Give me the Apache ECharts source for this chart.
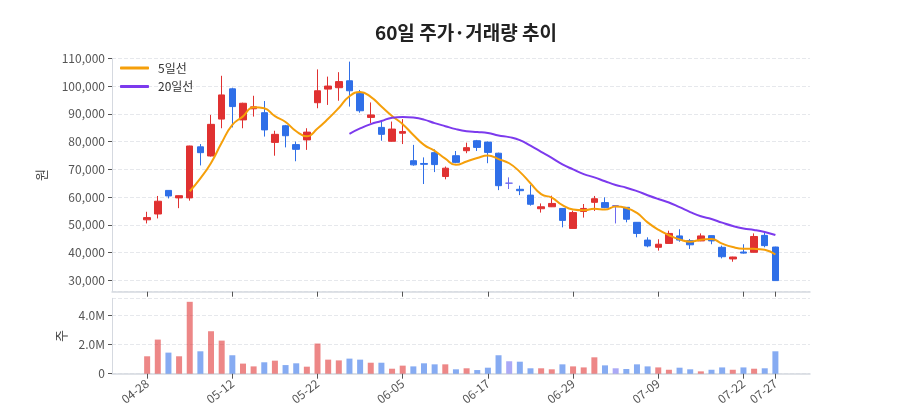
<!DOCTYPE html>
<html>
<head>
<meta charset="utf-8">
<script src="https://cdn.jsdelivr.net/npm/echarts@6/dist/echarts.min.js"></script>
<style>
  html, body { margin: 0; padding: 0; background: #fff; }
  #chart { width: 900px; height: 420px; }
</style>
</head>
<body>
<div id="chart"></div>
<script>
const chart = echarts.init(document.getElementById('chart'))

const dates = ['04-28','04-29','04-30','05-04','05-06','05-07','05-08','05-11','05-12','05-13',
    '05-14','05-15','05-18','05-19','05-20','05-21','05-22','05-26','05-27','05-28',
    '05-29','06-01','06-02','06-04','06-05','06-08','06-09','06-10','06-11','06-12',
    '06-15','06-16','06-17','06-18','06-19','06-22','06-23','06-24','06-25','06-26',
    '06-29','06-30','07-01','07-02','07-03','07-06','07-07','07-08','07-09','07-10',
    '07-13','07-14','07-15','07-16','07-20','07-21','07-22','07-23','07-24','07-27']

const opens = [51800,53900,62400,59700,59700,78100,74800,88100,99000,87800,
    91800,90400,79700,85700,78900,80600,94000,98900,99400,101900,
    97400,88700,85100,80100,83000,73100,72100,76000,67400,74900,
    76700,80300,79800,75800,65000,62800,60700,55800,56500,55900,
    48700,54800,58100,58000,56900,56300,50900,44500,41900,43300,
    46000,44300,44200,46100,41900,37700,40200,40100,46200,42000]
const closes = [52600,58500,60400,60500,78400,76000,86200,96800,92600,93800,
    92500,84200,82600,82100,77200,83400,98300,100000,101600,98300,
    91100,89600,82600,84500,83600,71600,71800,71700,70400,72500,
    77800,77900,76100,64100,65000,62300,57400,56500,57700,51600,
    54400,55900,59400,56200,56900,52000,46900,42400,43000,46900,
    44500,42800,46000,44200,38500,38400,39800,45800,42500,29900]
const lows = [50500,52300,59500,56000,58700,71400,74600,84800,85100,84800,
    89000,81800,74900,77900,72900,77000,92000,93200,94700,92600,
    90400,86600,80300,80000,79100,71300,64700,69000,66400,72200,
    75800,76600,72200,62500,62900,60700,56900,54400,56400,49100,
    48600,52600,55000,56000,50500,50900,45500,41900,40700,43200,
    43900,41300,44100,43000,37900,36700,39600,40000,41900,29900]
const highs = [54700,60400,62500,60600,78500,79100,89600,103700,99400,94000,
    96500,94600,83900,86000,80000,84800,106000,103400,105000,108800,
    98600,94100,87200,87200,88100,78800,74300,77200,71000,76600,
    79600,80600,80000,76000,67100,64100,64300,57700,60500,56000,
    55100,57500,60400,59900,57100,56400,51000,45500,44800,47900,
    48400,44900,46900,46200,42500,38500,43000,46900,47200,42100]
const volumes = [1190000,2330000,1440000,1190000,4910000,1530000,2900000,2260000,1260000,690000,
    500000,780000,890000,590000,710000,480000,2060000,960000,910000,1030000,
    960000,750000,750000,340000,550000,500000,710000,640000,640000,300000,
    370000,250000,410000,1260000,850000,820000,370000,370000,300000,640000,
    500000,430000,1120000,570000,370000,320000,640000,500000,430000,270000,
    410000,300000,160000,270000,430000,270000,430000,340000,370000,1530000]

const tickIdx = [0, 8, 16, 24, 32, 40, 48, 56, 59]

const UP = '#e03131'
const DOWN = '#2f6fe8'
const DOJI = '#6e6af0'
const FONT = '"Noto Sans CJK KR", "Noto Sans", sans-serif'

// moving average of closes
function ma(n) {
    var res = []
    for (var i = n - 1; i < closes.length; i++) {
        var s = 0
        for (var j = i - n + 1; j <= i; j++) s += closes[j]
        res.push([i, s / n])
    }
    return res
}

const candles = dates.map(function (d, i) {
    var item = { value: [i, opens[i], closes[i], lows[i], highs[i]] }
    if (opens[i] === closes[i]) {
        item.itemStyle = { color: DOJI, color0: DOJI, borderColor: DOJI, borderColor0: DOJI }
    }
    return item
})

const vols = volumes.map(function (v, i) {
    var c = opens[i] < closes[i] ? UP : (opens[i] > closes[i] ? DOWN : DOJI)
    return { value: [i, v], itemStyle: { color: c, opacity: 0.58 } }
})

function xAxisFor(gridIndex, showLabels) {
    return {
        type: 'value',
        gridIndex: gridIndex,
        min: -3.3,
        max: 62.25,
        splitLine: { show: false },
        axisLine: { onZero: false, lineStyle: { color: '#d5d9e0', width: 1.5 } },
        axisTick: { show: true, customValues: tickIdx, length: 5, lineStyle: { color: '#555' } },
        axisLabel: {
            show: showLabels,
            customValues: tickIdx,
            rotate: 38,
            fontSize: 12,
            color: '#555',
            margin: 8,
            formatter: function (v) { return dates[v] }
        }
    }
}

function yAxisFor(gridIndex, extra) {
    return Object.assign({
        gridIndex: gridIndex,
        nameLocation: 'middle',
        nameTextStyle: { fontSize: 13, color: '#444' },
        axisLine: { show: true, onZero: false, lineStyle: { color: '#d5d9e0' } },
        axisTick: { show: true, length: 4, lineStyle: { color: '#555' } },
        splitLine: { lineStyle: { color: '#e6e8ec', type: 'dashed' } }
    }, extra)
}

chart.setOption({
    animation: false,
    textStyle: { fontFamily: FONT },
    title: {
        text: '60일 주가·거래량 추이',
        left: 461,
        textAlign: 'center',
        top: 18,
        textStyle: { fontSize: 19, fontWeight: 'bold', color: '#222', fontFamily: FONT }
    },
    legend: {
        orient: 'vertical',
        left: 120,
        top: 61,
        padding: 0,
        icon: 'roundRect',
        itemWidth: 29,
        itemHeight: 3,
        itemGap: 4.5,
        data: ['5일선', '20일선'],
        textStyle: { fontSize: 12, lineHeight: 14, color: '#333', fontFamily: FONT, padding: [0, 0, 0, 4] }
    },
    grid: [
        { left: 112, right: 90, top: 58.3, height: 233.4 },
        { left: 112, right: 90, top: 298.3, height: 75.4 }
    ],
    xAxis: [xAxisFor(0, false), xAxisFor(1, true)],
    yAxis: [
        yAxisFor(0, {
            min: 25900,
            max: 110000,
            splitNumber: 9,
            name: '원',
            nameGap: 64,
            axisLabel: {
                showMinLabel: false,
                fontSize: 12,
                color: '#555',
                margin: 7,
                formatter: function (v) { return v.toLocaleString('en-US') }
            }
        }),
        yAxisFor(1, {
            min: 0,
            max: 5150000,
            interval: 2000000,
            name: '주',
            nameGap: 44,
            axisLabel: {
                showMaxLabel: false,
                fontSize: 12,
                color: '#555',
                margin: 7,
                formatter: function (v) { return v === 0 ? '0' : (v / 1000000).toFixed(1) + 'M' }
            }
        })
    ],
    series: [
        {
            name: '캔들',
            type: 'candlestick',
            xAxisIndex: 0,
            yAxisIndex: 0,
            barWidth: 7,
            encode: { x: 0, y: [1, 2, 3, 4] },
            itemStyle: { color: UP, color0: DOWN, borderColor: UP, borderColor0: DOWN, borderWidth: 1 },
            data: candles
        },
        {
            name: '5일선',
            type: 'line',
            xAxisIndex: 0,
            yAxisIndex: 0,
            smooth: true,
            symbol: 'none',
            lineStyle: { width: 2, color: '#f59f0a' },
            itemStyle: { color: '#f59f0a' },
            data: ma(5)
        },
        {
            name: '20일선',
            type: 'line',
            xAxisIndex: 0,
            yAxisIndex: 0,
            smooth: true,
            symbol: 'none',
            lineStyle: { width: 2, color: '#7c3aed' },
            itemStyle: { color: '#7c3aed' },
            data: ma(20)
        },
        {
            name: '거래량',
            type: 'bar',
            xAxisIndex: 1,
            yAxisIndex: 1,
            barWidth: 6,
            data: vols
        }
    ]
})
</script>
</body>
</html>
